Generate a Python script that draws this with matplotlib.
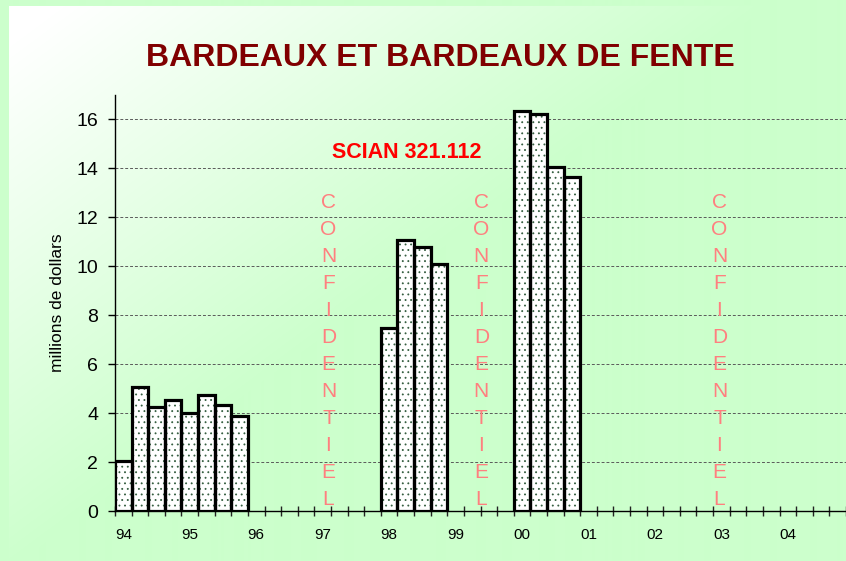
import numpy as np
import matplotlib
matplotlib.use("Agg")
import matplotlib.pyplot as plt

# ---- data ----
years = ['94', '95', '96', '97', '98', '99', '00', '01', '02', '03', '04']
quarters_per_year = 4
# quarterly values (millions de dollars); None = confidential / no data
values = [
    2.05, 5.08, 4.24, 4.55,      # 94
    4.02, 4.76, 4.35, 3.87,      # 95
    None, None, None, None,      # 96
    None, None, None, None,      # 97
    7.48, 11.06, 10.78, 10.09,   # 98
    None, None, None, None,      # 99
    16.36, 16.22, 14.04, 13.66,  # 00
    None, None, None, None,      # 01
    None, None, None, None,      # 02
    None, None, None, None,      # 03
    None, None, None, None,      # 04
]
yticks = [0, 2, 4, 6, 8, 10, 12, 14, 16]
title = "BARDEAUX ET BARDEAUX DE FENTE"
subtitle = "SCIAN 321.112"
ylabel = "millions de dollars"
conf_word = "CONFIDENTIEL"
conf_positions = [12.85, 22.05, 36.38]

NARROW = ['Liberation Sans Narrow', 'Liberation Sans', 'DejaVu Sans']
SANS = ['Liberation Sans', 'DejaVu Sans']
plt.rcParams['font.family'] = SANS
plt.rcParams['hatch.linewidth'] = 0.6
plt.rcParams['hatch.color'] = '#355e40'

W, H = 846, 561
fig = plt.figure(figsize=(W / 100, H / 100), dpi=100)

# ---- background gradient ----
bg = fig.add_axes([0, 0, 1, 1], zorder=-10)
yy, xx = np.mgrid[0:H, 0:W]
t = np.clip((xx - 60) / 700 + (yy - 10) / 520, 0, 1)[..., None]
white = np.array([1.0, 1.0, 1.0])
green = np.array([204, 255, 204]) / 255
img = white * (1 - t) + green * t
img[(xx < 9) | (yy < 6)] = green
bg.imshow(img, aspect='auto', extent=[0, 1, 0, 1], interpolation='bilinear')
bg.set_axis_off()

# ---- main axes ----
qw = 16.675
left_px, right_px, top_px, bot_px = 115, 846, 95, 511
ax = fig.add_axes([left_px / W, (H - bot_px) / H,
                   (right_px - left_px) / W, (bot_px - top_px) / H])
ax.set_facecolor('none')
n = len(values)
xs = np.arange(n) + 0.5
hs = np.array([np.nan if v is None else v for v in values])
mask = ~np.isnan(hs)

ax.bar(xs[mask], hs[mask], width=1.0, color='white', edgecolor='#355e40',
       hatch='...', linewidth=0, zorder=2)
ax.bar(xs[mask], hs[mask], width=1.0, fill=False, edgecolor='black',
       linewidth=2.3, zorder=3)

ax.set_xlim(0, (right_px - left_px) / qw)
ax.set_ylim(0, 17)

for s in ['top', 'right']:
    ax.spines[s].set_visible(False)
for s in ['left', 'bottom']:
    ax.spines[s].set_linewidth(1.0)
    ax.spines[s].set_color('black')

ax.set_yticks(yticks)
ax.set_yticklabels([str(v) for v in yticks], fontfamily=NARROW, fontsize=14)
ax.tick_params(axis='y', direction='out', length=5, width=1, pad=7, colors='black')
ax.yaxis.grid(True, color='#5a5a5a', linestyle=(0, (3, 2)), linewidth=0.7, zorder=1)
ax.set_axisbelow(True)

major = [quarters_per_year * k + 0.5 for k in range(len(years))]
ax.set_xticks(major)
ax.set_xticklabels(years, fontfamily=NARROW, fontsize=11)
ax.set_xticks(np.arange(0, n + 1), minor=True)
ax.tick_params(axis='x', which='major', length=0, pad=12.5)
ax.tick_params(axis='x', which='minor', direction='inout', length=7, width=1, color='#222222')

# confidential labels
cap_top = 12.39
step = 1.104
for xc in conf_positions:
    for i, ch in enumerate(conf_word):
        ax.text(xc, cap_top - i * step, ch, ha='center', va='baseline',
                fontsize=15, color='#ff7f7f', fontfamily=SANS, zorder=4)

# titles
fig.text(440 / W, 1 - 66 / H, title, ha='center', va='baseline',
         fontsize=23, fontweight='bold', color='#800000')
fig.text(407 / W, 1 - 158.3 / H, subtitle, ha='center', va='baseline',
         fontsize=15.5, fontweight='bold', color='#ff0000')
fig.text(57 / W, 1 - 303 / H, ylabel, ha='center', va='center', rotation=90,
         fontsize=12.5, color='black')

fig.savefig('out.png', dpi=100)
